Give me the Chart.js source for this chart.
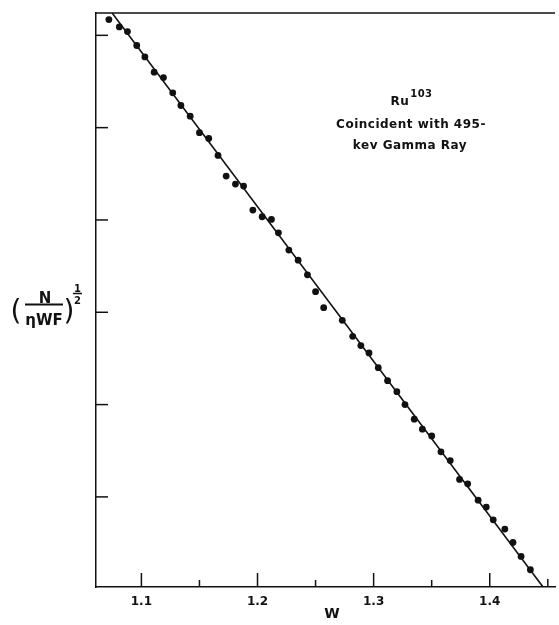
<!DOCTYPE html>
<html>
<head>
<meta charset="utf-8">
<title>Ru103 Kurie plot</title>
<script src="https://cdn.jsdelivr.net/npm/chart.js@4/dist/chart.umd.min.js"></script>
<style>
  body { margin: 0; background: #fff; }
  canvas { display: block; }
</style>
</head>
<body>
<canvas id="kurie" width="559" height="625"></canvas>
<script>
// measured points, W and (N / eta W F)^1/2 (arbitrary units)
var wValues = [1.072, 1.081, 1.088, 1.096, 1.103, 1.111, 1.119, 1.127, 1.134, 1.142,
  1.150, 1.158, 1.166, 1.173, 1.181, 1.188, 1.196, 1.204, 1.212, 1.218,
  1.227, 1.235, 1.243, 1.250, 1.257, 1.273, 1.282, 1.289, 1.296, 1.304,
  1.312, 1.320, 1.327, 1.335, 1.342, 1.350, 1.358, 1.366, 1.374, 1.381,
  1.390, 1.397, 1.403, 1.413, 1.420, 1.427, 1.435];
var rootValues = [6.171, 6.091, 6.041, 5.890, 5.766, 5.601, 5.543, 5.377, 5.240, 5.124,
  4.946, 4.883, 4.699, 4.475, 4.389, 4.367, 4.107, 4.035, 4.006, 3.861,
  3.674, 3.564, 3.406, 3.223, 3.050, 2.913, 2.740, 2.639, 2.560, 2.400,
  2.259, 2.140, 2.000, 1.842, 1.734, 1.661, 1.488, 1.394, 1.189, 1.142,
  0.965, 0.890, 0.752, 0.652, 0.506, 0.355, 0.211];

// straight line fit, end points
var fitW = [1.0748, 1.4459];
var fitRoot = [6.242, 0.024];

var xTickValues = [1.1, 1.15, 1.2, 1.25, 1.3, 1.35, 1.4, 1.45];
var xTickLabels = ["1.1", "", "1.2", "", "1.3", "", "1.4", ""];
var yTickValues = [1, 2, 3, 4, 5, 6];

var ink = "#111";
var labelFont = "'DejaVu Sans', sans-serif";

var points = wValues.map(function (w, i) {
  return { x: w, y: rootValues[i] };
});
var fitLine = fitW.map(function (w, i) {
  return { x: w, y: fitRoot[i] };
});

// inward tick marks, top frame line and the texts
var decorations = {
  id: "decorations",
  beforeDraw: function (chart) {
    var c = chart.ctx;
    c.save();
    c.fillStyle = "#fff";
    c.fillRect(0, 0, chart.width, chart.height);
    c.restore();
  },
  afterDraw: function (chart) {
    var c = chart.ctx;
    var area = chart.chartArea;
    var xs = chart.scales.x;
    var ys = chart.scales.y;
    c.save();
    c.strokeStyle = ink;
    c.lineWidth = 1.5;

    c.beginPath();
    c.moveTo(area.left, area.top);
    c.lineTo(area.right, area.top);
    c.stroke();

    xs.ticks.forEach(function (t, i) {
      var px = xs.getPixelForValue(t.value);
      var len = xTickLabels[i] ? 14 : 7;
      if (i === xTickValues.length - 1) len = 8;
      c.beginPath();
      c.moveTo(px, area.bottom);
      c.lineTo(px, area.bottom - len);
      c.stroke();
    });
    ys.ticks.forEach(function (t) {
      var py = ys.getPixelForValue(t.value);
      c.beginPath();
      c.moveTo(area.left, py);
      c.lineTo(area.left + 12, py);
      c.stroke();
    });

    c.fillStyle = ink;
    c.textAlign = "center";
    c.textBaseline = "alphabetic";

    // x title
    c.font = "bold 14px " + labelFont;
    c.fillText("W", 332, 618);

    // y title  (N / ηWF)^(1/2)
    c.font = "bold 15px " + labelFont;
    c.fillText("N", 45, 303);
    c.fillText("\u03B7WF", 44, 325);
    c.beginPath();
    c.lineWidth = 2;
    c.moveTo(25, 304.5);
    c.lineTo(63, 304.5);
    c.stroke();
    c.font = "28px " + labelFont;
    c.fillText("(", 16, 320);
    c.fillText(")", 69, 320);
    c.font = "bold 10px " + labelFont;
    c.fillText("1", 77.5, 292);
    c.fillText("2", 77.5, 304);
    c.beginPath();
    c.lineWidth = 1.5;
    c.moveTo(73, 293.5);
    c.lineTo(82, 293.5);
    c.stroke();

    // annotation
    c.letterSpacing = "0.5px";
    c.font = "bold 12px " + labelFont;
    c.textAlign = "left";
    var ruW = c.measureText("Ru").width;
    c.font = "bold 10px " + labelFont;
    var supW = c.measureText("103").width;
    var startX = 411.5 - (ruW + supW + 1) / 2;
    c.font = "bold 12px " + labelFont;
    c.fillText("Ru", startX, 105);
    c.font = "bold 10px " + labelFont;
    c.fillText("103", startX + ruW + 1, 97);
    c.textAlign = "center";
    c.font = "bold 12px " + labelFont;
    c.fillText("Coincident with 495-", 411, 128);
    c.fillText("kev Gamma Ray", 410, 149);
    c.restore();
  }
};

var ctx = document.getElementById("kurie").getContext("2d");
var kurieChart = new Chart(ctx, {
  type: "scatter",
  data: {
    datasets: [
      {
        label: "fit",
        type: "line",
        data: fitLine,
        borderColor: ink,
        borderWidth: 1.6,
        pointRadius: 0,
        fill: false,
        tension: 0,
      },
      {
        label: "Ru103",
        data: points,
        backgroundColor: ink,
        borderWidth: 0,
        pointRadius: 3.4,
      },
    ],
  },
  options: {
    responsive: false,
    animation: false,
    devicePixelRatio: 1,
    layout: { padding: { top: 13, right: 1, left: 0, bottom: 0 } },
    plugins: {
      legend: { display: false },
      tooltip: { enabled: false },
    },
    scales: {
      x: {
        type: "linear",
        min: 1.0609,
        max: 1.4562,
        grid: { display: false, drawTicks: false },
        border: { display: true, color: ink, width: 1.5 },
        afterBuildTicks: function (scale) {
          scale.ticks = xTickValues.map(function (v) { return { value: v }; });
        },
        afterFit: function (scale) { scale.height = 38; },
        ticks: {
          autoSkip: false,
          maxRotation: 0,
          padding: 8,
          color: ink,
          font: { family: labelFont, size: 12, weight: "bold" },
          callback: function (value, index) { return xTickLabels[index]; },
        },
      },
      y: {
        type: "linear",
        min: 0.024,
        max: 6.242,
        grid: { display: false, drawTicks: false },
        border: { display: true, color: ink, width: 1.5 },
        afterBuildTicks: function (scale) {
          scale.ticks = yTickValues.map(function (v) { return { value: v }; });
        },
        afterFit: function (scale) { scale.width = 96; },
        ticks: { display: false },
      },
    },
  },
  plugins: [decorations],
});
</script>
</body>
</html>
